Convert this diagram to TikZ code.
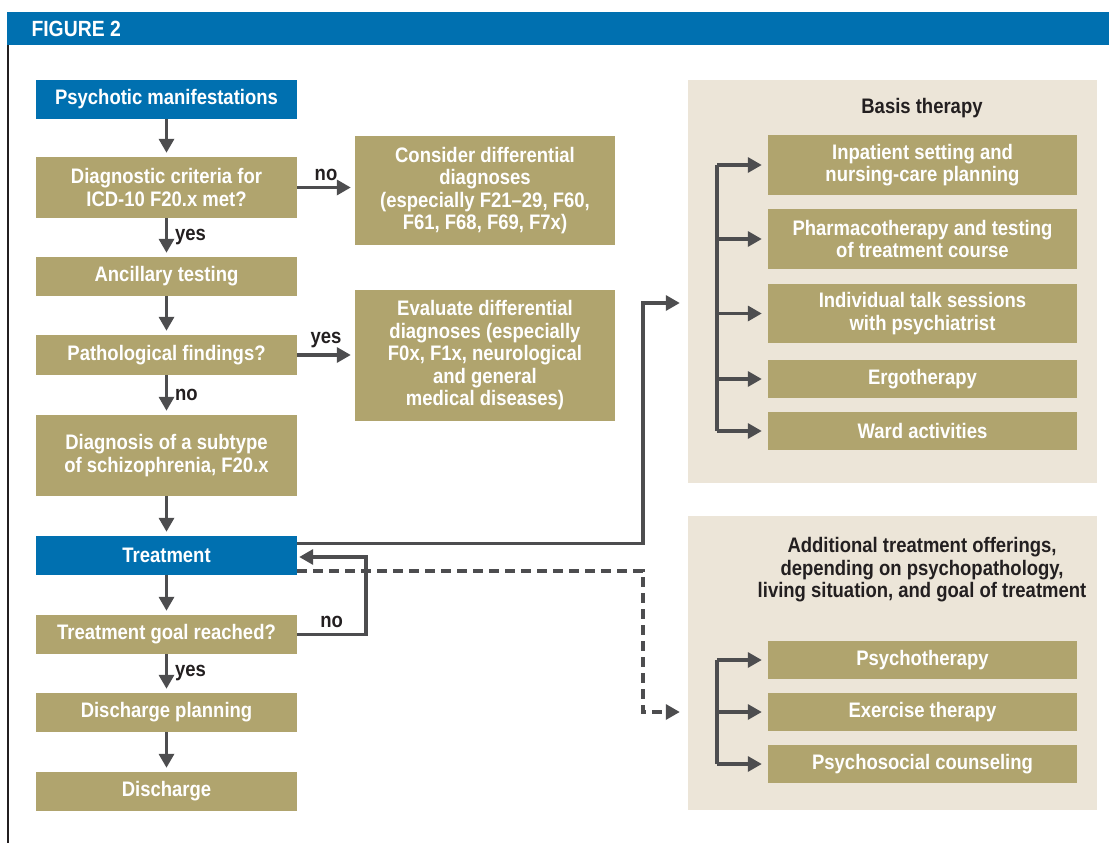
\documentclass[tikz,border=0pt]{standalone}
\usepackage{fontspec}
\setmainfont{Liberation Sans}[FakeStretch=0.88]
\usepackage{tikz}
\usetikzlibrary{arrows.meta,positioning}
\usepackage{xcolor}
\definecolor{figblue}{RGB}{0,112,176}
\definecolor{khaki}{RGB}{176,164,110}
\definecolor{panelbg}{RGB}{236,229,216}
\definecolor{arrowgray}{RGB}{77,77,79}
\definecolor{inkblack}{RGB}{35,31,32}

\begin{document}
\begin{tikzpicture}[x=1pt,y=-1pt]
    %styles
    \tikzstyle{txt}=[font=\fontsize{21}{22.5}\selectfont\bfseries]
    \tikzstyle{stepbox}=[rectangle,txt,fill=khaki,text=white,align=center,inner sep=0pt,minimum height=39pt]
    \tikzstyle{bluebox}=[stepbox,fill=figblue]
    \tikzstyle{panel}=[rectangle,fill=panelbg,inner sep=0pt]
    \tikzstyle{lbl}=[txt,text=inkblack,inner sep=3pt]
    \tikzstyle{commu}=[-{Triangle[length=14pt,width=15pt]},line width=3.3pt,draw=arrowgray,shorten >=4pt]
    \tikzstyle{spine}=[line width=3.3pt,draw=arrowgray]
    \useasboundingbox (0,0) rectangle (1109,843);
    %frame
    \fill[figblue] (7,12) rectangle (1109,45);
    \node[txt,text=white,anchor=west,font=\fontsize{22}{22}\selectfont\bfseries] (fig) at (28,29) {FIGURE 2};
    \draw[inkblack,line width=2pt] (8,45) -- (8,843);
    %nodes
    \node[bluebox,minimum width=261pt] (psy) at (166.5,99.5) {Psychotic manifestations};
    \node[stepbox,minimum width=261pt,minimum height=61pt] (crit) at (166.5,187.5) {Diagnostic criteria for\\ICD-10 F20.x met?};
    \node[stepbox,minimum width=261pt] (anc) at (166.5,276.5) {Ancillary testing};
    \node[stepbox,minimum width=261pt,minimum height=40pt] (path) at (166.5,355) {Pathological findings?};
    \node[stepbox,minimum width=261pt,minimum height=81pt] (subt) at (166.5,455.5) {Diagnosis of a subtype\\of schizophrenia, F20.x};
    \node[bluebox,minimum width=261pt] (treat) at (166.5,555.5) {Treatment};
    \node[stepbox,minimum width=261pt] (goal) at (166.5,634.5) {Treatment goal reached?};
    \node[stepbox,minimum width=261pt] (dplan) at (166.5,712.5) {Discharge planning};
    \node[stepbox,minimum width=261pt] (disch) at (166.5,791.5) {Discharge};

    \node[stepbox,minimum width=260pt,minimum height=109pt] (diff) at (485,190.5) {Consider differential\\diagnoses\\(especially F21--29, F60,\\F61, F68, F69, F7x)};
    \node[stepbox,minimum width=260pt,minimum height=131pt] (evald) at (485,355.5) {Evaluate differential\\diagnoses (especially\\F0x, F1x, neurological\\and general\\medical diseases)};

    \node[panel,minimum width=409pt,minimum height=403pt] (basis) at (892.5,281.5) {};
    \node[lbl,text=inkblack] (basist) at (922,108) {Basis therapy};
    \node[stepbox,minimum width=309pt,minimum height=60pt] (inpat) at (922.5,165) {Inpatient setting and\\nursing-care planning};
    \node[stepbox,minimum width=309pt,minimum height=60pt] (pharm) at (922.5,239) {Pharmacotherapy and testing\\of treatment course};
    \node[stepbox,minimum width=309pt,minimum height=59pt] (talk) at (922.5,313.5) {Individual talk sessions\\with psychiatrist};
    \node[stepbox,minimum width=309pt,minimum height=38pt] (ergo) at (922.5,379) {Ergotherapy};
    \node[stepbox,minimum width=309pt,minimum height=38pt] (ward) at (922.5,431) {Ward activities};

    \node[panel,minimum width=409pt,minimum height=294pt] (addl) at (892.5,663) {};
    \node[lbl,align=center,text=inkblack] (addlt) at (922,570) {Additional treatment offerings,\\depending on psychopathology,\\living situation, and goal of treatment};
    \node[stepbox,minimum width=309pt,minimum height=38pt] (psyth) at (922.5,660) {Psychotherapy};
    \node[stepbox,minimum width=309pt,minimum height=38pt] (exer) at (922.5,712) {Exercise therapy};
    \node[stepbox,minimum width=309pt,minimum height=38pt] (psysoc) at (922.5,764) {Psychosocial counseling};

    \coordinate (bx) at (717,0);
    \coordinate (tb) at (643,303);
    \coordinate (td) at (643,712);
    \coordinate (lp) at (366,557);

    %arrows
    \draw[commu] (psy)--(crit);
    \draw[commu] (crit)-- node[lbl,right,xshift=4pt]{yes} (anc);
    \draw[commu] (anc)--(path);
    \draw[commu] (path)-- node[lbl,right,xshift=4pt]{no} (subt);
    \draw[commu] (subt)--(treat);
    \draw[commu] (treat)--(goal);
    \draw[commu] (goal)-- node[lbl,right,xshift=4pt]{yes} (dplan);
    \draw[commu] (dplan)--(disch);
    \draw[commu] (crit.east)-- node[lbl,above,yshift=2pt]{no} (diff.west |- crit.east);
    \draw[commu] (path.east)-- node[lbl,above,yshift=2pt]{yes} (evald.west |- path.east);
    \draw[commu,shorten >=2pt] (goal.east) -| node[lbl,above,pos=0.25,yshift=2pt]{no} (lp) -- (treat.east |- lp);
    \draw[commu,shorten >=8pt] ([yshift=12pt]treat.east) -| (tb) -- (basis.west |- tb);
    \draw[commu,shorten >=8pt,dash pattern=on 10pt off 6pt] ([yshift=-15.5pt]treat.east) -| (td) -- (addl.west |- td);

    \draw[spine] (bx |- inpat.west) -- (bx |- ward.west);
    \draw[commu,shorten >=6pt] (bx |- inpat.west) -- (inpat.west);
    \draw[commu,shorten >=6pt] (bx |- pharm.west) -- (pharm.west);
    \draw[commu,shorten >=6pt] (bx |- talk.west) -- (talk.west);
    \draw[commu,shorten >=6pt] (bx |- ergo.west) -- (ergo.west);
    \draw[commu,shorten >=6pt] (bx |- ward.west) -- (ward.west);

    \draw[spine] (bx |- psyth.west) -- (bx |- psysoc.west);
    \draw[commu,shorten >=6pt] (bx |- psyth.west) -- (psyth.west);
    \draw[commu,shorten >=6pt] (bx |- exer.west) -- (exer.west);
    \draw[commu,shorten >=6pt] (bx |- psysoc.west) -- (psysoc.west);
\end{tikzpicture}
\end{document}
